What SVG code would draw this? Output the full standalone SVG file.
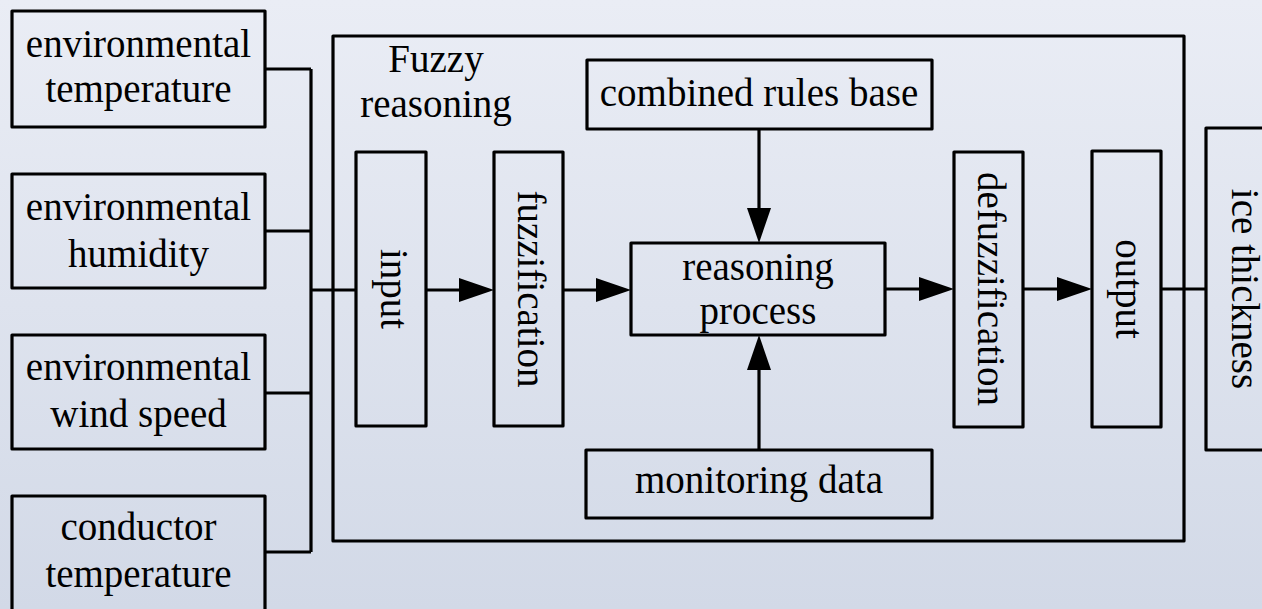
<svg xmlns="http://www.w3.org/2000/svg" width="1262" height="609" viewBox="0 0 1262 609">
<defs>
<linearGradient id="bg" x1="0" y1="0" x2="0" y2="1">
<stop offset="0" stop-color="#eaedf5"/>
<stop offset="1" stop-color="#d2d9e7"/>
</linearGradient>
<marker id="arr" markerUnits="userSpaceOnUse" markerWidth="36" markerHeight="26" viewBox="0 0 36 26" refX="5" refY="13" orient="auto">
<path d="M0,1 L35,13 L0,25 z" fill="#000"/>
</marker>
</defs>
<style>
.box{fill:none;stroke:#000;stroke-width:3.2;stroke-linejoin:round}
.ln{fill:none;stroke:#000;stroke-width:3.2}
.t{font-size:39px;fill:#000;text-anchor:middle}
</style>
<rect x="0" y="0" width="1262" height="609" fill="url(#bg)"/>

<g font-family="Liberation Serif, Times New Roman, DejaVu Serif, serif">
<g id="fuzzy-reasoning">
<rect class="box" x="333" y="36" width="851" height="505"/>
<text class="t" x="436" y="72">Fuzzy</text>
<text class="t" x="436" y="117">reasoning</text>
</g>

<g id="connectors">
<path class="ln" d="M265,69 H311 M265,231 H311 M265,393 H311 M265,552 H311 M311,69 V552 M311,290 H356"/>
<path class="ln" d="M426,290 H464" marker-end="url(#arr)"/>
<path class="ln" d="M563,290 H601" marker-end="url(#arr)"/>
<path class="ln" d="M885,289 H924" marker-end="url(#arr)"/>
<path class="ln" d="M1023,289 H1062" marker-end="url(#arr)"/>
<path class="ln" d="M1161,289 H1206"/>
<path class="ln" d="M759,129 V213" marker-end="url(#arr)"/>
<path class="ln" d="M759,450 V365" marker-end="url(#arr)"/>
</g>

<g id="env-temperature">
<rect class="box" x="12" y="11" width="253" height="116"/>
<text class="t" x="138.5" y="57">environmental</text>
<text class="t" x="138.5" y="102">temperature</text>
</g>
<g id="env-humidity">
<rect class="box" x="12" y="174" width="253" height="114"/>
<text class="t" x="138.5" y="220">environmental</text>
<text class="t" x="138.5" y="267">humidity</text>
</g>
<g id="env-wind-speed">
<rect class="box" x="12" y="335" width="253" height="114"/>
<text class="t" x="138.5" y="380">environmental</text>
<text class="t" x="138.5" y="427">wind speed</text>
</g>
<g id="conductor-temperature">
<rect class="box" x="12" y="496" width="253" height="130"/>
<text class="t" x="138.5" y="540">conductor</text>
<text class="t" x="138.5" y="587">temperature</text>
</g>

<g id="input">
<rect class="box" x="356" y="152" width="70" height="274"/>
<text class="t" transform="translate(381,289) rotate(90)">input</text>
</g>
<g id="fuzzification">
<rect class="box" x="494" y="152" width="69" height="274"/>
<text class="t" transform="translate(518,289) rotate(90)">fuzzification</text>
</g>
<g id="combined-rules-base">
<rect class="box" x="587" y="60" width="345" height="69"/>
<text class="t" x="759" y="106">combined rules base</text>
</g>
<g id="reasoning-process">
<rect class="box" x="631" y="243" width="254" height="92"/>
<text class="t" x="758" y="280">reasoning</text>
<text class="t" x="758" y="324">process</text>
</g>
<g id="monitoring-data">
<rect class="box" x="586" y="450" width="346" height="68"/>
<text class="t" x="759" y="493">monitoring data</text>
</g>
<g id="defuzzification">
<rect class="box" x="954" y="152" width="69" height="275"/>
<text class="t" transform="translate(978,289) rotate(90)">defuzzification</text>
</g>
<g id="output">
<rect class="box" x="1092" y="151" width="69" height="276"/>
<text class="t" transform="translate(1116,289) rotate(90)">output</text>
</g>
<g id="ice-thickness">
<rect class="box" x="1206" y="128" width="90" height="322"/>
<text class="t" transform="translate(1232,289) rotate(90)">ice thickness</text>
</g>
</g>
</svg>
